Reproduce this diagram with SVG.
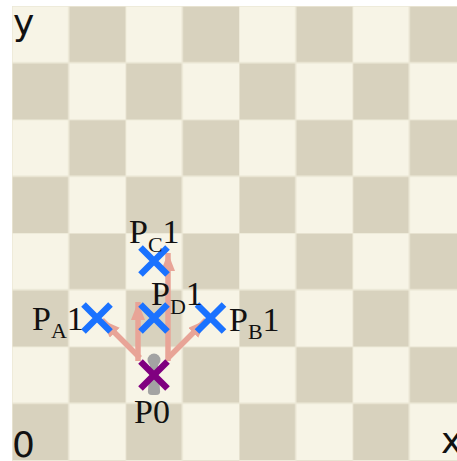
<svg xmlns="http://www.w3.org/2000/svg" width="457" height="461" viewBox="0 0 457 461">
<style>
.lbl{font-family:"Liberation Serif","Times New Roman",serif;font-size:34px;fill:#111}
.sub{font-size:22px}
.axis{font-family:"DejaVu Sans",sans-serif;font-size:36px;fill:#111}
.mv{stroke:#E8A497;stroke-width:5.5;fill:none;marker-end:url(#ah)}
.bx{stroke:#1A72FF;stroke-width:6.5;fill:none}
.px{stroke:#800080;stroke-width:6.5;fill:none}
</style>
<defs>
<pattern id="chk" patternUnits="userSpaceOnUse" x="12" y="6" width="113.5" height="113.5">
<rect width="113.5" height="113.5" fill="#F7F4E6"/>
<rect x="56.75" y="0" width="56.75" height="56.75" fill="#D8D2BE"/>
<rect x="0" y="56.75" width="56.75" height="56.75" fill="#D8D2BE"/>
<path d="M0 0H113.5M0 56.75H113.5M0 0V113.5M56.75 0V113.5" stroke="#ECE8D6" stroke-width="1.4"/>
</pattern>
<marker id="ah" markerUnits="userSpaceOnUse" markerWidth="20" markerHeight="16" refX="18" refY="7" orient="auto">
<path d="M0 0L18 7L0 14Z" fill="#E8A497"/>
</marker>
</defs>
<rect width="457" height="461" fill="#fff"/>
<rect id="board" x="12" y="6" width="445" height="455" fill="url(#chk)"/>
<g id="pawn" fill="#A3A3A3">
<circle cx="154" cy="360" r="6.5"/>
<path d="M150 365H158L160 390Q161 395 156 395H152Q147 395 148 390Z"/>
</g>
<g id="connectors">
<path class="mv" d="M140 358L102 320"/>
<path class="mv" d="M168 358L206 320"/>
<path class="mv" d="M138 361V302"/>
<path class="mv" d="M168 361V253"/>
</g>
<g id="P0">
<path class="px" d="M140.5 361.5L167.5 388.5M167.5 361.5L140.5 388.5"/>
<text class="lbl" x="134" y="423">P0</text>
</g>
<g id="PA1">
<path class="bx" d="M83.5 304.5L110.5 331.5M110.5 304.5L83.5 331.5"/>
<text class="lbl" x="32" y="330">P<tspan class="sub" dy="8">A</tspan><tspan dy="-8">1</tspan></text>
</g>
<g id="PB1">
<path class="bx" d="M197 304.5L224 331.5M224 304.5L197 331.5"/>
<text class="lbl" x="229" y="331">P<tspan class="sub" dy="8">B</tspan><tspan dy="-8">1</tspan></text>
</g>
<g id="PD1">
<path class="bx" d="M140.5 304.5L167.5 331.5M167.5 304.5L140.5 331.5"/>
<text class="lbl" x="151" y="305">P<tspan class="sub" dy="9">D</tspan><tspan dy="-9">1</tspan></text>
</g>
<g id="PC1">
<path class="bx" d="M140.5 247.5L167.5 274.5M167.5 247.5L140.5 274.5"/>
<text class="lbl" x="129" y="243">P<tspan class="sub" dy="9">C</tspan><tspan dy="-9">1</tspan></text>
</g>
<g id="axes">
<text class="axis" x="13" y="35">y</text>
<text class="axis" x="12" y="457">0</text>
<text class="axis" x="441" y="453">x</text>
</g>
</svg>
